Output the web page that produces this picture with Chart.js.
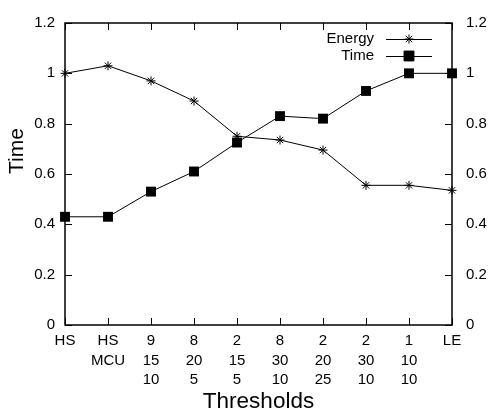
<!DOCTYPE html>
<html>
<head>
<meta charset="utf-8">
<script src="https://cdn.jsdelivr.net/npm/chart.js@4/dist/chart.umd.min.js"></script>
<style>
  html, body { margin: 0; padding: 0; background: #fff; }
  #wrap { width: 492px; height: 418px; }
</style>
</head>
<body>
<div id="wrap"><canvas id="chart" width="492" height="418"></canvas></div>
<script>
// threshold labels, one array per text line
var line1 = ['HS', 'HS', '9', '8', '2', '8', '2', '2', '1', 'LE'];
var line2 = ['', 'MCU', '15', '20', '15', '30', '20', '30', '10', ''];
var line3 = ['', '', '10', '5', '5', '10', '25', '10', '10', ''];

var energy = [1.0, 1.03, 0.97, 0.89, 0.75, 0.735, 0.695, 0.555, 0.555, 0.535];
var time = [0.43, 0.43, 0.53, 0.61, 0.725, 0.83, 0.82, 0.93, 1.0, 1.0];

var yTicks = [0, 0.2, 0.4, 0.6, 0.8, 1, 1.2];

var labels = [];
for (var i = 0; i < line1.length; i++) {
	var l = [line1[i]];
	if (line2[i]) l.push(line2[i]);
	if (line3[i]) l.push(line3[i]);
	labels.push(l);
}

var FONT = "'Liberation Sans', Arial, sans-serif";

// gnuplot style border with inward ticks, the key and the y label
var framePlugin = {
	id: 'frame',
	afterDatasetsDraw: function(chart) {
		var ctx = chart.ctx;
		var a = chart.chartArea;
		var x = chart.scales.x, y = chart.scales.y;
		var tl = 7;
		ctx.save();
		ctx.strokeStyle = '#000';
		ctx.lineWidth = 1;
		ctx.beginPath();
		for (var i = 0; i < labels.length; i++) {
			var px = Math.round(x.getPixelForValue(i)) + 0.5;
			ctx.moveTo(px, a.bottom); ctx.lineTo(px, a.bottom - tl);
			ctx.moveTo(px, a.top); ctx.lineTo(px, a.top + tl);
		}
		yTicks.forEach(function(v) {
			var py = Math.round(y.getPixelForValue(v)) + 0.5;
			ctx.moveTo(a.left, py); ctx.lineTo(a.left + tl, py);
			ctx.moveTo(a.right, py); ctx.lineTo(a.right - tl, py);
		});
		ctx.stroke();
		ctx.lineWidth = 1.5;
		ctx.strokeRect(a.left, a.top, a.right - a.left, a.bottom - a.top);

		// key
		var items = chart.data.datasets;
		var textRight = a.right - 78;
		var lineL = a.right - 66, lineR = a.right - 20;
		ctx.font = '15px ' + FONT;
		ctx.textAlign = 'right';
		ctx.textBaseline = 'middle';
		ctx.fillStyle = '#000';
		items.forEach(function(ds, k) {
			var ky = a.top + 16 + k * 17;
			ctx.fillText(ds.label, textRight, ky);
			ctx.lineWidth = 1;
			ctx.beginPath();
			ctx.moveTo(lineL, ky + 0.5); ctx.lineTo(lineR, ky + 0.5);
			ctx.stroke();
			Chart.helpers.drawPoint(ctx, {
				pointStyle: ds.pointStyle, radius: ds.pointRadius, borderWidth: 1
			}, (lineL + lineR) / 2, ky);
		});

		// y axis label, sits a bit above the middle like gnuplot does
		ctx.translate(17, 151);
		ctx.rotate(-Math.PI / 2);
		ctx.font = '21px ' + FONT;
		ctx.textAlign = 'center';
		ctx.fillText('Time', 0, 0);
		ctx.restore();
	}
};

new Chart(document.getElementById('chart'), {
	type: 'line',
	data: {
		labels: labels,
		datasets: [{
			label: 'Energy',
			data: energy,
			borderColor: '#000',
			backgroundColor: '#000',
			borderWidth: 1,
			pointStyle: 'star',
			pointRadius: 4.5,
			pointBorderWidth: 1,
			pointBorderColor: '#000',
			tension: 0
		}, {
			label: 'Time',
			data: time,
			borderColor: '#000',
			backgroundColor: '#000',
			borderWidth: 1,
			pointStyle: 'rect',
			pointRadius: 7,
			pointBorderWidth: 0,
			pointBackgroundColor: '#000',
			tension: 0
		}]
	},
	options: {
		responsive: false,
		animation: false,
		devicePixelRatio: 1,
		layout: { padding: { top: 15, left: 0, right: 0, bottom: 0 } },
		plugins: {
			legend: { display: false },
			tooltip: { enabled: false }
		},
		scales: {
			x: {
				type: 'category',
				offset: false,
				grid: { display: false, drawTicks: false },
				border: { display: false },
				ticks: {
					color: '#000',
					font: { family: FONT, size: 15, lineHeight: 1.31 },
					padding: 6,
					maxRotation: 0,
					autoSkip: false
				},
				title: {
					display: true,
					text: 'Thresholds',
					color: '#000',
					font: { family: FONT, size: 22.5 },
					padding: { top: 0, bottom: 3 }
				},
				afterFit: function(s) { s.height = 93; }
			},
			y: {
				position: 'left',
				min: 0,
				max: 1.2,
				grid: { display: false, drawTicks: false },
				border: { display: false },
				ticks: {
					stepSize: 0.2,
					color: '#000',
					font: { family: FONT, size: 15 },
					padding: 10,
					callback: function(v) { return +v.toFixed(1); }
				},
				afterFit: function(s) { s.width = 65; }
			},
			y2: {
				position: 'right',
				min: 0,
				max: 1.2,
				grid: { display: false, drawTicks: false },
				border: { display: false },
				ticks: {
					stepSize: 0.2,
					color: '#000',
					font: { family: FONT, size: 15 },
					padding: 14,
					callback: function(v) { return +v.toFixed(1); }
				},
				afterFit: function(s) { s.width = 40; }
			}
		}
	},
	plugins: [framePlugin]
});
</script>
</body>
</html>
